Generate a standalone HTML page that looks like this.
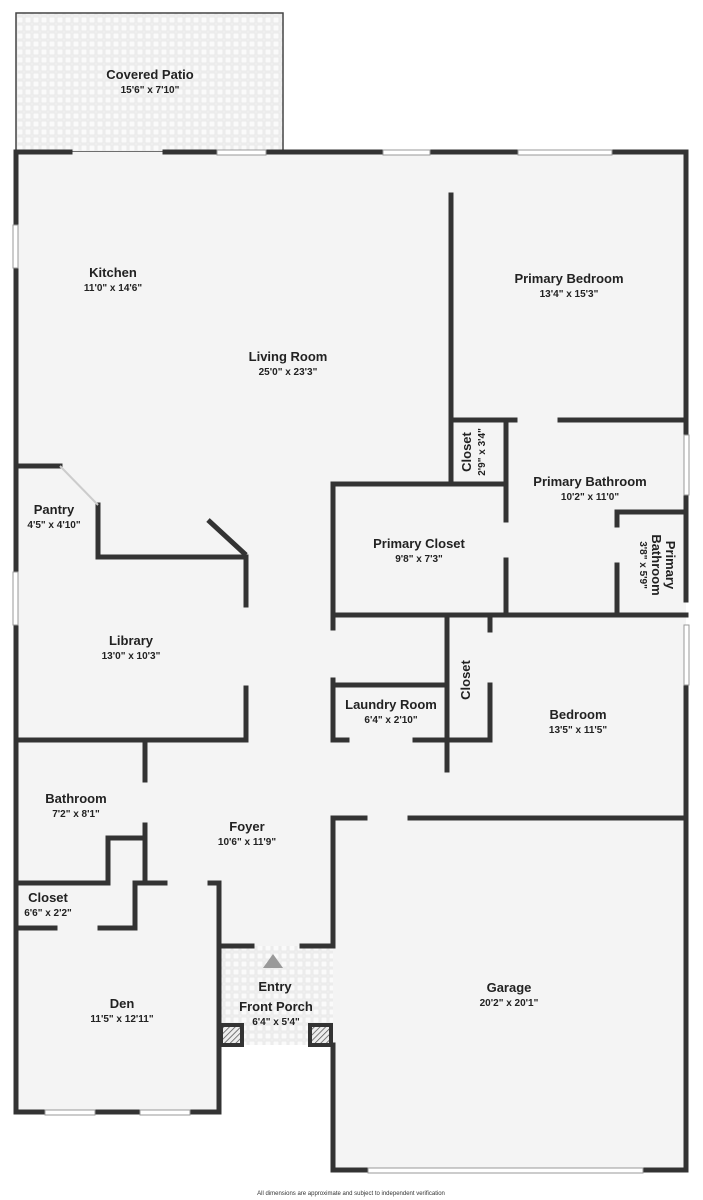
<!DOCTYPE html>
<html><head><meta charset="utf-8"><style>
html,body{margin:0;padding:0;background:#fff;}
svg{display:block}
text{font-family:"Liberation Sans",sans-serif;fill:#222;text-anchor:middle}
.n{font-size:13px;font-weight:bold}
.d{font-size:10px;font-weight:bold}
</style></head><body>
<svg width="703" height="1200" viewBox="0 0 703 1200" xmlns="http://www.w3.org/2000/svg">
<defs>
<pattern id="tile" width="8" height="8" patternUnits="userSpaceOnUse">
<rect width="8" height="8" fill="#f0f0f0"/><rect x="1" y="1" width="6" height="6" fill="#fafafa" stroke="#e2e2e2" stroke-width="0.6"/>
</pattern>
<pattern id="hatch" width="4" height="4" patternUnits="userSpaceOnUse" patternTransform="rotate(45)">
<rect width="4" height="4" fill="#eee"/><line x1="0" y1="0" x2="0" y2="4" stroke="#555" stroke-width="1.5"/>
</pattern>
</defs>
<!-- patio -->
<rect x="16" y="13" width="267" height="139" fill="url(#tile)" stroke="#444" stroke-width="1.5"/>
<!-- floor -->
<path d="M16 152 H686 V1170 H333 V1045 H219 V1112 H16 Z" fill="#f4f4f4"/>
<rect x="219" y="946" width="114" height="99" fill="url(#tile)"/>
<g stroke="#333" stroke-width="5" fill="none" stroke-linecap="square">
<!-- outer -->
<path d="M16 152 H70 M165 152 H217 M266 152 H383 M430 152 H518 M612 152 H686 V600 M686 685 V1170 H333 V1045"/>
<path d="M16 152 V225 M16 268 V572 M16 625 V1112 H45 M95 1112 H140 M190 1112 H219 V883 H210 M165 883 H135"/>
<!-- primary bedroom -->
<path d="M451 195 V420 H515 M560 420 H686"/>
<path d="M686 435 V420 M686 495 V512"/>
<path d="M451 420 V484 M333 484 H506 V440 M506 470 V520 M506 560 V615 M506 420 V440"/>
<path d="M617 512 H686 M617 512 V525 M617 565 V615"/>
<path d="M333 484 V615 M333 615 H686"/>
<!-- laundry / closet -->
<path d="M333 620 V628 M333 680 V740 H347 M415 740 H451 M333 685 H447"/>
<path d="M447 615 V740 H490 V685 M490 615 V630"/>
<path d="M447 740 V770"/>
<!-- garage -->
<path d="M333 818 V946 H302 M252 946 H219 V1020"/>
<path d="M333 818 H365 M410 818 H686"/>
<!-- left side -->
<path d="M16 466 H60 M98 505 V557 H246 V605 M246 688 V740 H16"/>
<path d="M145 740 V780 M145 825 V838 H108 V883 H16 M145 838 V883 H165"/>
<path d="M16 928 H55 M100 928 H135 V883"/>
</g>
<g stroke="#333" stroke-width="5"><line x1="60" y1="466" x2="98" y2="505" stroke="#ccc" stroke-width="2"/><line x1="208" y1="520" x2="246" y2="555"/></g>
<!-- windows -->
<g fill="#fff" stroke="#999" stroke-width="1">
<rect x="217" y="150" width="49" height="5"/><rect x="383" y="150" width="47" height="5"/><rect x="518" y="150" width="94" height="5"/>
<rect x="13" y="225" width="5" height="43"/><rect x="13" y="572" width="5" height="53"/>
<rect x="684" y="435" width="5" height="60"/><rect x="684" y="625" width="5" height="60"/>
<rect x="45" y="1110" width="50" height="5"/><rect x="140" y="1110" width="50" height="5"/>
<rect x="368" y="1168" width="275" height="5"/>
</g>
<!-- pillars -->
<rect x="221" y="1025" width="21" height="20" fill="url(#hatch)" stroke="#333" stroke-width="4"/>
<rect x="310" y="1025" width="21" height="20" fill="url(#hatch)" stroke="#333" stroke-width="4"/>
<polygon points="273,954 263,968 283,968" fill="#999"/>
<!-- labels -->
<text class="n" x="150" y="79">Covered Patio</text><text class="d" x="150" y="93">15'6" x 7'10"</text>
<text class="n" x="113" y="277">Kitchen</text><text class="d" x="113" y="291">11'0" x 14'6"</text>
<text class="n" x="288" y="361">Living Room</text><text class="d" x="288" y="375">25'0" x 23'3"</text>
<text class="n" x="569" y="283">Primary Bedroom</text><text class="d" x="569" y="297">13'4" x 15'3"</text>
<text class="n" x="590" y="486">Primary Bathroom</text><text class="d" x="590" y="500">10'2" x 11'0"</text>
<text class="n" x="419" y="548">Primary Closet</text><text class="d" x="419" y="562">9'8" x 7'3"</text>
<text class="n" x="54" y="514">Pantry</text><text class="d" x="54" y="528">4'5" x 4'10"</text>
<text class="n" x="131" y="645">Library</text><text class="d" x="131" y="659">13'0" x 10'3"</text>
<text class="n" x="391" y="709">Laundry Room</text><text class="d" x="391" y="723">6'4" x 2'10"</text>
<text class="n" x="578" y="719">Bedroom</text><text class="d" x="578" y="733">13'5" x 11'5"</text>
<text class="n" x="76" y="803">Bathroom</text><text class="d" x="76" y="817">7'2" x 8'1"</text>
<text class="n" x="247" y="831">Foyer</text><text class="d" x="247" y="845">10'6" x 11'9"</text>
<text class="n" x="48" y="902">Closet</text><text class="d" x="48" y="916">6'6" x 2'2"</text>
<text class="n" x="122" y="1008">Den</text><text class="d" x="122" y="1022">11'5" x 12'11"</text>
<text class="n" x="275" y="991">Entry</text><text class="n" x="276" y="1011">Front Porch</text><text class="d" x="276" y="1025">6'4" x 5'4"</text>
<text class="n" x="509" y="992">Garage</text><text class="d" x="509" y="1006">20'2" x 20'1"</text>
<g transform="translate(471,452) rotate(-90)"><text class="n" x="0" y="0">Closet</text><text class="d" x="0" y="14">2'9" x 3'4"</text></g>
<g transform="translate(470,680) rotate(-90)"><text class="n" x="0" y="0">Closet</text></g>
<g transform="translate(652,565) rotate(90)"><text class="n" x="0" y="-14">Primary</text><text class="n" x="0" y="0">Bathroom</text><text class="d" x="0" y="12">3'8" x 5'9"</text></g>
<text x="351" y="1195" style="font-size:6px;fill:#333">All dimensions are approximate and subject to independent verification</text>
</svg>
</body></html>
